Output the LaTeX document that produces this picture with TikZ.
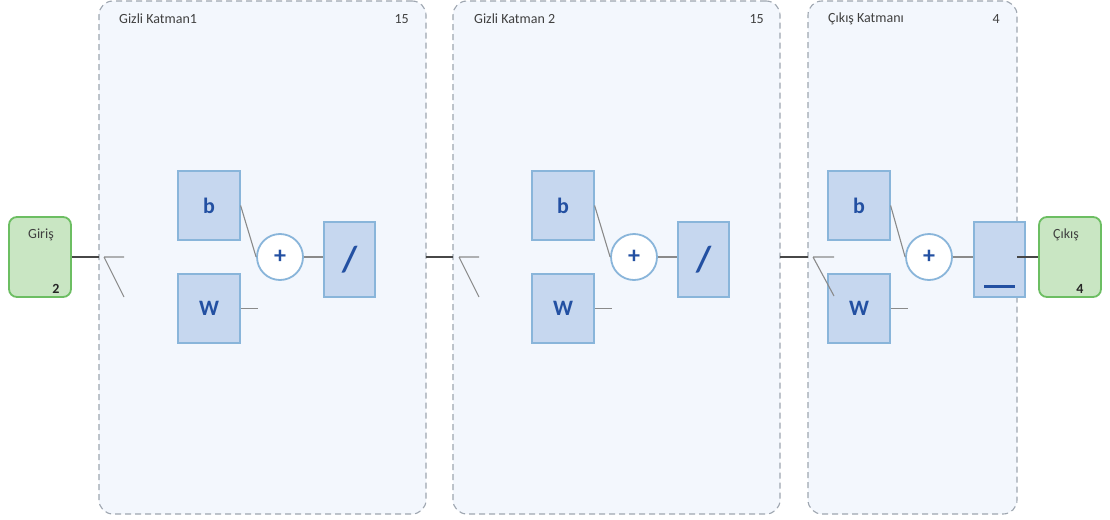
\documentclass[tikz,border=0pt]{standalone}
\usepackage{fontspec}
\setmainfont{Carlito}
\usepackage{tikz}
\usetikzlibrary{positioning,calc}

\definecolor{panelfill}{HTML}{F3F7FD}
\definecolor{paneledge}{HTML}{9EA6B0}
\definecolor{unitfill}{HTML}{C6D7EF}
\definecolor{unitedge}{HTML}{89B5DA}
\definecolor{unittext}{HTML}{2350A2}
\definecolor{iofill}{HTML}{C9E6C3}
\definecolor{ioedge}{HTML}{6CBE62}
\definecolor{wiregray}{HTML}{8A8A8A}
\definecolor{busgray}{HTML}{474747}
\definecolor{captext}{HTML}{404040}

\begin{document}
\begin{tikzpicture}[x=1pt, y=-1pt]

  % ===== Styles =====
  \tikzset{
    panel/.style={draw=paneledge, dash pattern=on 6pt off 4pt, line width=1.1pt, rounded corners=14pt, fill=panelfill, inner sep=0pt, outer sep=0pt},
    iobox/.style={draw=ioedge, line width=1.8pt, rounded corners=8pt, fill=iofill, minimum width=62pt, minimum height=80pt, inner sep=0pt},
    unit/.style={draw=unitedge, line width=1.2pt, fill=unitfill, minimum width=62pt, minimum height=69pt, inner sep=0pt, text=unittext, font=\fontsize{22}{22}\selectfont\bfseries},
    act/.style={unit, minimum width=51pt, minimum height=75pt, font=\fontsize{36}{36}\selectfont\bfseries},
    sum/.style={circle, draw=unitedge, line width=1.8pt, fill=white, minimum size=46pt, inner sep=0pt, text=unittext, font=\fontsize{24}{24}\selectfont\bfseries},
    caption/.style={font=\fontsize{14}{16}\selectfont, text=captext, inner sep=0pt},
    sizecap/.style={font=\fontsize{14}{16}\selectfont\bfseries, text=black!85, inner sep=0pt},
    wire/.style={draw=wiregray, line width=1.1pt},
    bus/.style={draw=busgray, line width=2pt}
  }

  % ===== Canvas (fixed size, white) =====
  \fill[white] (0,0) rectangle (1110,519);
  \useasboundingbox (0,0) rectangle (1110,519);

  % ===== Layer panels =====
  \node[panel, minimum width=327pt, minimum height=513pt] (hid1) at (262.5,257.5) {};
  \node[panel, minimum width=327pt, minimum height=513pt] (hid2) at (616.5,257.5) {};
  \node[panel, minimum width=209pt, minimum height=513pt] (hid3) at (912.5,257.5) {};

  % Panel headings (name left, size right)
  \node[caption, anchor=west] (hid1name) at (119,19) {Gizli Katman1};
  \node[caption, anchor=east] (hid1size) at (409,19) {15};
  \node[caption, anchor=west] (hid2name) at (474,19) {Gizli Katman 2};
  \node[caption, anchor=east] (hid2size) at (764,19) {15};
  \node[caption, anchor=west] (hid3name) at (828,19) {Çıkış Katmanı};
  \node[caption, anchor=east] (hid3size) at (1000,19) {4};

  % ===== Input / output =====
  \node[iobox] (in) at (40,257) {};
  \node[caption] (inname) at (41,235) {Giriş};
  \node[sizecap] (insize) at (56,289) {2};

  \node[iobox] (out) at (1070,257) {};
  \node[caption] (outname) at (1066,235) {Çıkış};
  \node[sizecap] (outsize) at (1080,289) {4};

  % ===== Hidden layer 1 =====
  \node[unit] (b1) at (209,205.5) {b};
  \node[unit] (w1) at (209,308.5) {W};
  \node[sum] (sum1) at (280,257) {+};
  \node[act] (act1) at (349.5,259.5) {/};

  % ===== Hidden layer 2 =====
  \node[unit] (b2) at (563,205.5) {b};
  \node[unit] (w2) at (563,308.5) {W};
  \node[sum] (sum2) at (634,257) {+};
  \node[act] (act2) at (703.5,259.5) {/};

  % ===== Output layer (linear) =====
  \node[unit] (b3) at (859,205.5) {b};
  \node[unit] (w3) at (859,308.5) {W};
  \node[sum] (sum3) at (929,257) {+};
  \node[act] (act3) at (999.5,259.5) {};
  \node[inner sep=0pt, text=unittext] (act3sym) at (999.5,286) {\rule{31pt}{3pt}};

  % ===== Wiring inside the layers =====
  \draw[wire] (b1.east) -- (sum1.west);
  \draw[wire] (w1.east) -- ++(17,0);
  \draw[wire] (sum1.east) -- (sum1.east -| act1.west);
  \coordinate (hid1in) at ($(hid1.west |- in)+(5,0)$);
  \draw[wire] (hid1in) -- ++(20,0) (hid1in) -- ++(20,40);

  \draw[wire] (b2.east) -- (sum2.west);
  \draw[wire] (w2.east) -- ++(17,0);
  \draw[wire] (sum2.east) -- (sum2.east -| act2.west);
  \coordinate (hid2in) at ($(hid2.west |- in)+(6,0)$);
  \draw[wire] (hid2in) -- ++(20,0) (hid2in) -- ++(20,40);

  \draw[wire] (b3.east) -- (sum3.west);
  \draw[wire] (w3.east) -- ++(17,0);
  \draw[wire] (sum3.east) -- (sum3.east -| act3.west);
  \coordinate (hid3in) at ($(hid3.west |- in)+(5,0)$);
  \draw[wire] (hid3in) -- ++(21,0) (hid3in) -- ++(21,39);

  % ===== Connections between layers =====
  \draw[bus] (in.east) -- (in.east -| hid1.west);
  \draw[bus] (hid1.east |- in) -- (hid2.west |- in);
  \draw[bus] (hid2.east |- in) -- (hid3.west |- in);
  \draw[bus] (hid3.east |- out) -- (out.west);

\end{tikzpicture}
\end{document}
